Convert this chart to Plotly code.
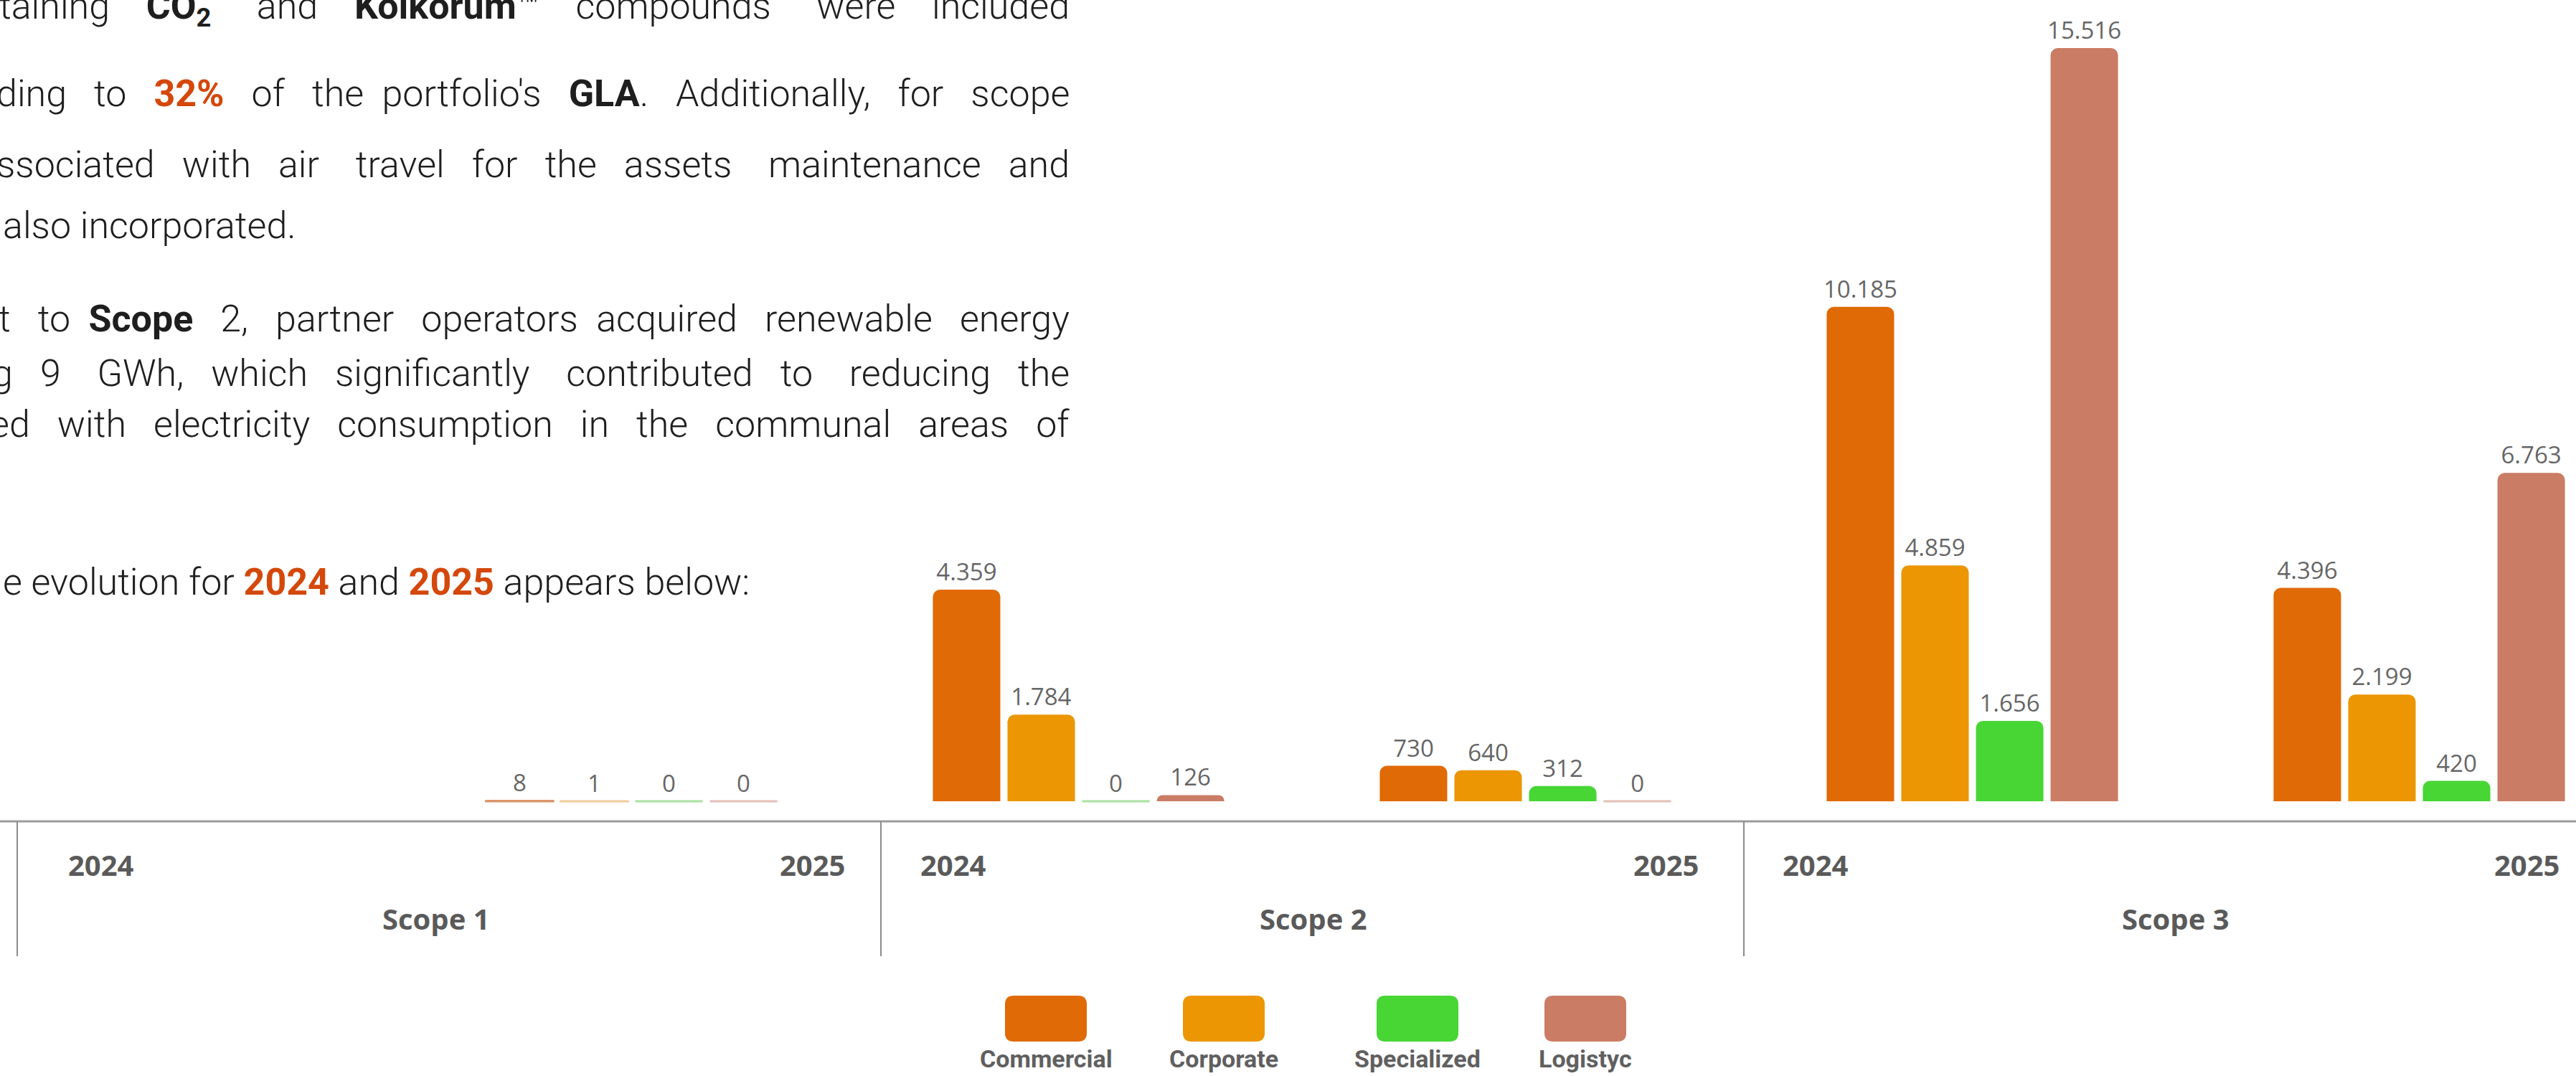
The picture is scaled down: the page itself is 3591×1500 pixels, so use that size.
import plotly.graph_objects as go

W, H = 3591, 1500

# ---------------- data ----------------
categories = ["Scope 1 · 2024", "Scope 1 · 2025", "Scope 2 · 2024",
              "Scope 2 · 2025", "Scope 3 · 2024", "Scope 3 · 2025"]
series_names = ["Commercial", "Corporate", "Specialized", "Logistyc"]
commercial = [None, 8, 4359, 730, 10185, 4396]
corporate = [None, 1, 1784, 640, 4859, 2199]
specialized = [None, 0, 0, 312, 1656, 420]
logistyc = [None, 0, 126, 0, 15516, 6763]
scopes = ["Scope 1", "Scope 2", "Scope 3"]
years = ["2024", "2025"]

para_lines = [
    "taining <b>CO<sub>2</sub></b> and <b>Kolkorum</b>™ compounds were included",
    "ding to <span style='color:#D4480B'><b>32%</b></span> of the portfolio's <b>GLA</b>. Additionally, for scope",
    "ssociated with air travel for the assets maintenance and",
    "also incorporated.",
    "t to <b>Scope</b> 2, partner operators acquired renewable energy",
    "g 9 GWh, which significantly contributed to reducing the",
    "ed with electricity consumption in the communal areas of",
    "e evolution for <span style='color:#D4480B'><b>2024</b></span> and "
    "<span style='color:#D4480B'><b>2025</b></span> appears below:",
]

# ---------------- style ----------------
colors = ["#E06A05", "#EC9604", "#47D634", "#CB7C65"]
stub_colors = ["#D9956A", "#F1CC9A", "#A9E2A0", "#E2C0B6"]
label_grey = "#5A5A5A"


def px_x(p):
    return p / W


def px_y(p):
    return 1 - p / H


def fmt(v):
    return None if v is None else f"{v:,}".replace(",", ".")


fig = go.Figure()
all_series = [commercial, corporate, specialized, logistyc]
vmax = max(v for s in all_series for v in s if v is not None)
for name, vals, col, stub in zip(series_names, all_series, colors, stub_colors):
    tiny = [(v is not None and v / vmax < 0.002) for v in vals]
    fig.add_trace(go.Bar(
        name=name, x=categories, y=vals,
        marker=dict(color=col, cornerradius=10,
                    line=dict(width=[3 if t else 0 for t in tiny],
                              color=[stub if t else col for t in tiny])),
        text=[fmt(v) for v in vals], textposition="outside",
        constraintext="none", cliponaxis=False,
        textfont=dict(family="Open Sans", size=33, color="#666666"),
        showlegend=False,
    ))

fig.update_layout(
    width=W, height=H,
    margin=dict(l=0, r=0, t=0, b=0),
    paper_bgcolor="white", plot_bgcolor="white",
    barmode="group", bargap=0.332, bargroupgap=0.096,
    xaxis=dict(type="category", range=[-0.4133, 5.3507], visible=False),
    yaxis=dict(range=[-5660, 16506], visible=False),
)

shapes = []
annotations = []
# axis line
shapes.append(dict(type="line", xref="paper", yref="paper",
                   x0=0, x1=1, y0=px_y(1145), y1=px_y(1145),
                   line=dict(color="#9C9C9C", width=3)))

dividers = [24, 1228, 2431]
y2024_cx = [141, 1329, 2531]
y2025_right = [1180, 2370, 3570]
scope_cx = [608, 1831, 3033]
axis_font = dict(family="Open Sans", size=40, color=label_grey)
for i, sc in enumerate(scopes):
    shapes.append(dict(type="line", xref="paper", yref="paper",
                       x0=px_x(dividers[i]), x1=px_x(dividers[i]),
                       y0=px_y(1145), y1=px_y(1333),
                       line=dict(color="#8C8C8C", width=2)))
    annotations.append(dict(text=f"<b>{years[0]}</b>", x=px_x(y2024_cx[i]), y=px_y(1205),
                            xref="paper", yref="paper", xanchor="center", yanchor="middle",
                            showarrow=False, font=axis_font))
    annotations.append(dict(text=f"<b>{years[1]}</b>", x=px_x(y2025_right[i]), y=px_y(1205),
                            xref="paper", yref="paper", xanchor="right", yanchor="middle",
                            showarrow=False, font=axis_font))
    annotations.append(dict(text=f"<b>{sc}</b>", x=px_x(scope_cx[i]), y=px_y(1280),
                            xref="paper", yref="paper", xanchor="center", yanchor="middle",
                            showarrow=False, font=axis_font))

# legend (custom rounded swatches)
leg_cx = [1458, 1706, 1976, 2210]


def rrect(x0, y0, x1, y1, r):
    X, Y = px_x, px_y
    return (f"M {X(x0 + r)},{Y(y0)} L {X(x1 - r)},{Y(y0)} Q {X(x1)},{Y(y0)} {X(x1)},{Y(y0 + r)} "
            f"L {X(x1)},{Y(y1 - r)} Q {X(x1)},{Y(y1)} {X(x1 - r)},{Y(y1)} "
            f"L {X(x0 + r)},{Y(y1)} Q {X(x0)},{Y(y1)} {X(x0)},{Y(y1 - r)} "
            f"L {X(x0)},{Y(y0 + r)} Q {X(x0)},{Y(y0)} {X(x0 + r)},{Y(y0)} Z")


for cx, name, col in zip(leg_cx, series_names, colors):
    shapes.append(dict(type="path", xref="paper", yref="paper",
                       path=rrect(cx - 57, 1388, cx + 57, 1452, 12),
                       fillcolor=col, line=dict(width=0)))
    annotations.append(dict(text=f"<b>{name}</b>", x=px_x(cx), y=px_y(1476),
                            xref="paper", yref="paper", xanchor="center", yanchor="middle",
                            showarrow=False,
                            font=dict(family="Roboto", size=34, color="#606060")))


# paragraph text (justified block, cropped at the left edge)
def pad_spaces(txt, n):
    """spread n extra non-breaking spaces over the word gaps (emulates justification)"""
    if n <= 0:
        return txt
    gaps = []
    inside = False
    for k, ch in enumerate(txt):
        if ch == "<":
            inside = True
        elif ch == ">":
            inside = False
        elif ch == " " and not inside:
            gaps.append(k)
    if not gaps:
        return txt
    g = len(gaps)
    extra = {pos: n // g for pos in gaps}
    rem = n % g
    for j in range(rem):
        extra[gaps[int((j + 0.5) * g / rem)]] += 1
    out = []
    for k, ch in enumerate(txt):
        out.append(ch)
        if k in extra:
            out.append("\u00a0" * extra[k])
    return "".join(out)


para_y = [12, 130, 229, 314, 444, 520, 591, 811]
para_align = ["right", "right", "right", "left", "right", "right", "right", "left"]
para_pad = [20, 17, 18, 0, 14, 19, 16, 0]
for txt, yy, al, pad in zip(para_lines, para_y, para_align, para_pad):
    annotations.append(dict(text=pad_spaces(txt, pad),
                            x=px_x(1493) if al == "right" else px_x(2), y=px_y(yy),
                            xref="paper", yref="paper", xanchor=al, yanchor="middle",
                            align=al, showarrow=False,
                            font=dict(family="Roboto", size=52, color="#1E1E1E", weight=300)))

fig.update_layout(shapes=shapes, annotations=annotations)
fig.write_html("out.html")
